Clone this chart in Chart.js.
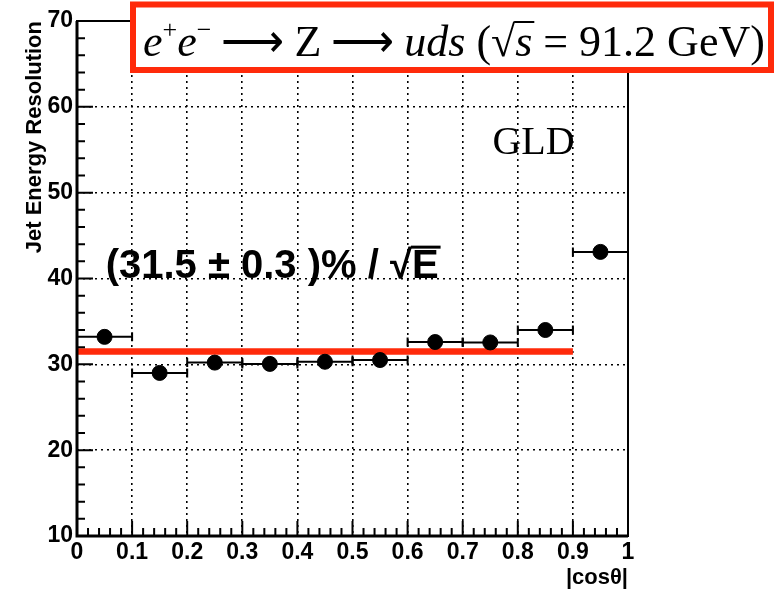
<!DOCTYPE html>
<html>
<head>
<meta charset="utf-8">
<script src="https://cdn.jsdelivr.net/npm/chart.js@4.4.1/dist/chart.umd.min.js"></script>
<style>
  html, body { margin: 0; padding: 0; background: #fff; }
  #wrap { width: 780px; height: 589px; }
</style>
</head>
<body>
<div id="wrap"><canvas id="resChart" width="780" height="589"></canvas></div>
<script>
// bins of |cos theta| and measured jet energy resolution (%/sqrt(E))
const binCenters = [0.05, 0.15, 0.25, 0.35, 0.45, 0.55, 0.65, 0.75, 0.85, 0.95];
const binHalfWidths = [0.05, 0.05, 0.05, 0.05, 0.05, 0.05, 0.05, 0.05, 0.05, 0.05];
const resolution = [33.2, 29.0, 30.2, 30.05, 30.3, 30.5, 32.6, 32.55, 34.0, 43.1];
const fitValue = 31.5;
const fitRange = [0, 0.9];
const xTickLabels = ['0', '0.1', '0.2', '0.3', '0.4', '0.5', '0.6', '0.7', '0.8', '0.9', '1'];
const yTickLabels = ['10', '20', '30', '40', '50', '60', '70'];

const SANS = '"Liberation Sans", Arial, Helvetica, sans-serif';
const SERIF = '"Liberation Serif", "Times New Roman", serif';
const RED = '#ff2a0a';

// height of the top of the radical sign above the baseline
function radicalTop(ctx, font) {
    ctx.font = font;
    return ctx.measureText('\u221a').actualBoundingBoxAscent;
}

// draw a list of text runs left to right, optional overline on a run
function drawRuns(ctx, runs, x, y) {
    let cx = x;
    runs.forEach(r => {
        ctx.font = r.font;
        const w = ctx.measureText(r.t).width;
        ctx.fillText(r.t, cx, y + (r.dy || 0));
        if (r.over) {
            ctx.save();
            ctx.lineWidth = r.over.w;
            ctx.beginPath();
            ctx.moveTo(cx - 1, y - r.over.h);
            ctx.lineTo(cx + w + 2, y - r.over.h);
            ctx.stroke();
            ctx.restore();
        }
        cx += w + (r.gap || 0);
    });
}

const errorBars = {
    id: 'errorBars',
    beforeDatasetsDraw(chart) {
        const { ctx, scales: { x, y } } = chart;
        ctx.save();
        ctx.strokeStyle = '#000';
        ctx.lineWidth = 2;
        binCenters.forEach((c, i) => {
            const x0 = x.getPixelForValue(c - binHalfWidths[i]);
            const x1 = x.getPixelForValue(c + binHalfWidths[i]);
            const py = y.getPixelForValue(resolution[i]);
            ctx.beginPath();
            ctx.moveTo(x0, py); ctx.lineTo(x1, py);
            ctx.moveTo(x0, py - 4.5); ctx.lineTo(x0, py + 4.5);
            ctx.moveTo(x1, py - 4.5); ctx.lineTo(x1, py + 4.5);
            ctx.stroke();
        });
        ctx.restore();
    }
};

const frameTicks = {
    id: 'frameTicks',
    afterDatasetsDraw(chart) {
        const { ctx, chartArea: a, scales: { x, y } } = chart;
        ctx.save();
        ctx.strokeStyle = '#000';
        // ticks on the left axis: major every 10, minor every 2
        ctx.lineWidth = 2;
        ctx.beginPath();
        for (let v = 10; v <= 70; v += 2) {
            const py = y.getPixelForValue(v);
            const len = (v % 10 === 0) ? 16 : 8;
            ctx.moveTo(a.left, py); ctx.lineTo(a.left + len, py);
        }
        for (let k = 0; k <= 50; k++) {
            const px = x.getPixelForValue(k / 50);
            const len = (k % 5 === 0) ? 15 : 8;
            ctx.moveTo(px, a.bottom); ctx.lineTo(px, a.bottom - len);
        }
        ctx.stroke();
        // frame
        ctx.lineWidth = 2;
        ctx.strokeRect(a.left, a.top, a.right - a.left, a.bottom - a.top);
        ctx.lineWidth = 3;
        ctx.beginPath();
        ctx.moveTo(a.left, a.top); ctx.lineTo(a.left, a.bottom); ctx.lineTo(a.right, a.bottom);
        ctx.stroke();
        ctx.restore();
    }
};

const annotations = {
    id: 'annotations',
    afterDraw(chart) {
        const { ctx, scales: { x, y } } = chart;
        ctx.save();
        ctx.fillStyle = '#000';
        ctx.strokeStyle = '#000';
        ctx.textBaseline = 'alphabetic';
        ctx.textAlign = 'left';

        // fit result label
        const fs = 40;
        const fb = `bold ${fs}px ${SANS}`;
        const fitRuns = [
            { t: '(31.5 \u00b1 0.3 )% / \u221a', font: fb },
            { t: 'E', font: fb, over: { h: radicalTop(ctx, fb) - 1.5, w: 3 } }
        ];
        drawRuns(ctx, fitRuns, x.getPixelForValue(0.052), y.getPixelForValue(40.1));

        // detector label
        ctx.font = `40px ${SERIF}`;
        ctx.fillText('GLD', x.getPixelForValue(0.754), y.getPixelForValue(54.5));

        // process box
        ctx.fillStyle = '#fff';
        ctx.fillRect(133, 4.5, 638, 65.5);
        ctx.strokeStyle = RED;
        ctx.lineWidth = 6;
        ctx.strokeRect(133, 4.5, 638, 65.5);

        ctx.fillStyle = '#000';
        ctx.strokeStyle = '#000';
        const ts = 44;
        const it = `italic ${ts}px ${SERIF}`;
        const rm = `${ts}px ${SERIF}`;
        const sup = `${Math.round(ts * 0.6)}px ${SERIF}`;
        const titleRuns = [
            { t: 'e', font: it },
            { t: '+', font: sup, dy: -18 },
            { t: 'e', font: it },
            { t: '\u2212', font: sup, dy: -18, gap: 10 },
            { t: '\u27f6', font: rm, gap: 10 },
            { t: 'Z', font: rm, gap: 10 },
            { t: '\u27f6', font: rm, gap: 10 },
            { t: 'uds', font: it },
            { t: ' (', font: rm },
            { t: '\u221a', font: rm },
            { t: 's', font: it, over: { h: radicalTop(ctx, rm) - 1, w: 2 } },
            { t: ' = 91.2 GeV)', font: rm }
        ];
        drawRuns(ctx, titleRuns, 143, 56);
        ctx.restore();
    }
};

new Chart(document.getElementById('resChart'), {
    type: 'scatter',
    data: {
        datasets: [
            {
                label: 'resolution',
                data: binCenters.map((c, i) => ({ x: c, y: resolution[i] })),
                backgroundColor: '#000',
                borderColor: '#000',
                pointRadius: 7.5,
                pointHoverRadius: 7.5,
                pointStyle: 'circle',
                showLine: false,
                order: 1
            },
            {
                label: 'fit',
                type: 'line',
                data: fitRange.map(v => ({ x: v, y: fitValue })),
                borderColor: RED,
                borderWidth: 6.5,
                pointRadius: 0,
                fill: false,
                order: 2
            }
        ]
    },
    options: {
        responsive: false,
        animation: false,
        devicePixelRatio: 1,
        layout: { padding: { left: 0, right: 152, top: 21, bottom: 0 } },
        plugins: {
            legend: { display: false },
            tooltip: { enabled: false },
            title: { display: false }
        },
        scales: {
            x: {
                type: 'linear',
                min: 0,
                max: 1,
                afterFit: s => { s.height = 53; },
                ticks: {
                    stepSize: 0.1,
                    padding: 3,
                    color: '#000',
                    maxRotation: 0,
                    autoSkip: false,
                    font: { family: SANS, size: 23, weight: 'bold' },
                    callback: (v, i) => xTickLabels[i]
                },
                grid: { color: '#000', lineWidth: 1.6, drawTicks: false },
                border: { display: false, dash: [2, 4] },
                title: {
                    display: true,
                    text: '|cos\u03b8|',
                    align: 'end',
                    color: '#000',
                    padding: 0,
                    font: { family: SANS, size: 22, weight: 'bold', lineHeight: 1 }
                }
            },
            y: {
                min: 10,
                max: 70,
                afterFit: s => { s.width = 77; },
                ticks: {
                    stepSize: 10,
                    padding: 4,
                    color: '#000',
                    font: { family: SANS, size: 23, weight: 'bold' },
                    callback: (v, i) => yTickLabels[i]
                },
                grid: { color: '#000', lineWidth: 1.6, drawTicks: false },
                border: { display: false, dash: [2, 4] },
                title: {
                    display: true,
                    text: 'Jet Energy Resolution',
                    align: 'end',
                    color: '#000',
                    padding: { top: 24, bottom: 0 },
                    font: { family: SANS, size: 22, weight: 'bold', lineHeight: 1 }
                }
            }
        }
    },
    plugins: [errorBars, frameTicks, annotations]
});
</script>
</body>
</html>
